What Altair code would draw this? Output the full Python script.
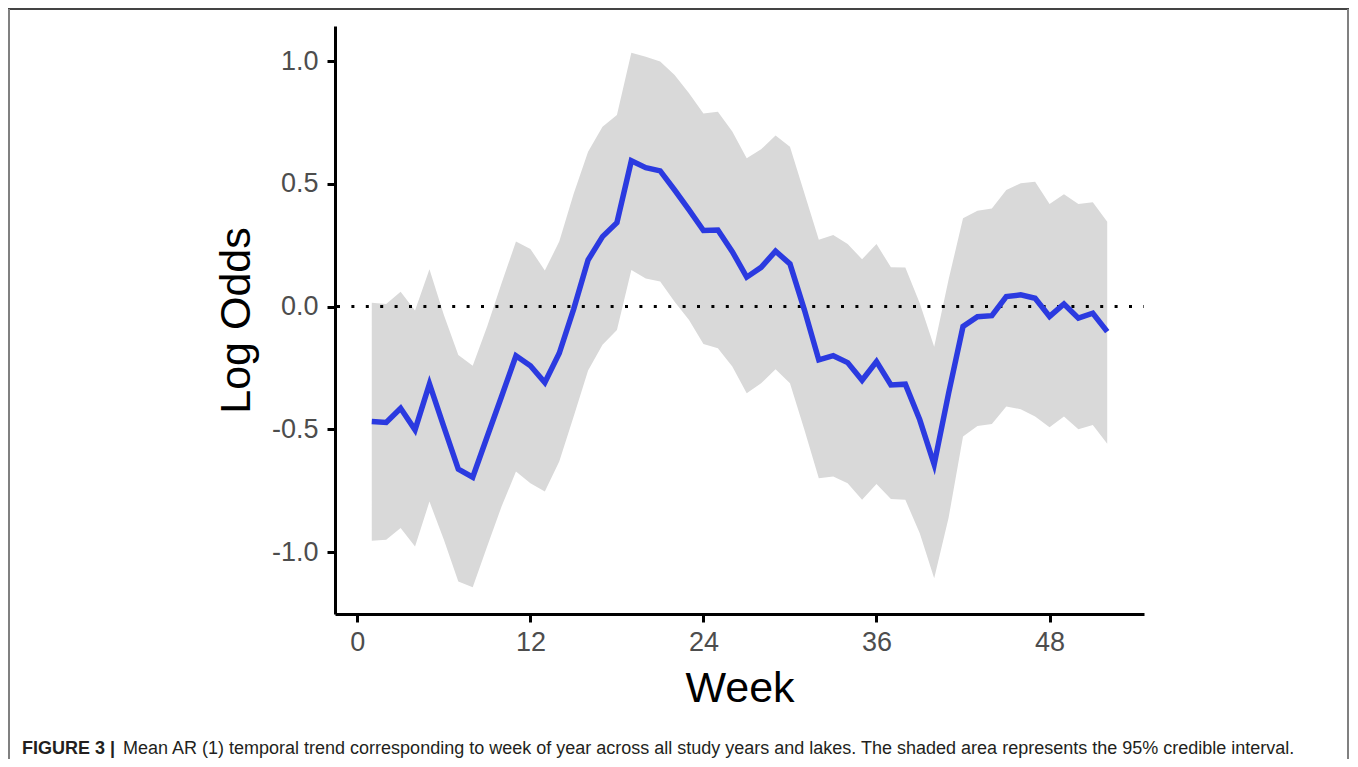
import altair as alt
import pandas as pd

weeks = list(range(1, 53))
mean_lo = [-0.468, -0.472, -0.414, -0.502, -0.315, -0.49, -0.662, -0.695, -0.53, -0.366,
           -0.20, -0.241, -0.309, -0.19, -0.01, 0.19, 0.285, 0.342, 0.594, 0.566,
           0.553, 0.475, 0.394, 0.31, 0.312, 0.224, 0.12, 0.16, 0.226, 0.174,
           -0.013, -0.217, -0.20, -0.228, -0.30, -0.224, -0.319, -0.316, -0.461, -0.643,
           -0.353, -0.081, -0.041, -0.037, 0.041, 0.048, 0.034, -0.04, 0.011, -0.047,
           -0.027, -0.102]
upper = [0.016, 0.011, 0.061, -0.016, 0.152, -0.034, -0.197, -0.241, -0.081, 0.095,
         0.265, 0.235, 0.147, 0.265, 0.46, 0.631, 0.733, 0.78, 1.034, 1.018,
         0.998, 0.943, 0.869, 0.787, 0.794, 0.713, 0.604, 0.641, 0.697, 0.651,
         0.462, 0.272, 0.292, 0.255, 0.193, 0.255, 0.16, 0.159, 0.014, -0.163,
         0.11, 0.36, 0.391, 0.40, 0.475, 0.502, 0.509, 0.418, 0.458, 0.418,
         0.425, 0.346]
lower = [-0.954, -0.95, -0.902, -0.977, -0.794, -0.95, -1.12, -1.143, -0.977, -0.814,
         -0.672, -0.719, -0.753, -0.631, -0.448, -0.26, -0.155, -0.095, 0.149, 0.115,
         0.102, 0.02, -0.054, -0.152, -0.17, -0.244, -0.353, -0.312, -0.255, -0.312,
         -0.502, -0.699, -0.692, -0.719, -0.787, -0.722, -0.784, -0.787, -0.923, -1.106,
         -0.86, -0.529, -0.486, -0.478, -0.407, -0.418, -0.448, -0.491, -0.448, -0.499,
         -0.482, -0.559]
x_ticks = [0, 12, 24, 36, 48]
y_ticks = [-1.0, -0.5, 0.0, 0.5, 1.0]
caption_bold = "FIGURE 3 |"
caption_rest = ("Mean AR (1) temporal trend corresponding to week of year across all study "
                "years and lakes. The shaded area represents the 95% credible interval.")

df = pd.DataFrame({"week": weeks, "mean": mean_lo, "lower": lower, "upper": upper})

FONT = "Liberation Sans"
W, H = 809, 588

xscale = alt.Scale(domain=[-1.55, 54.55], nice=False, zero=False)
yscale = alt.Scale(domain=[-1.252, 1.143], nice=False, zero=False)

x_axis = alt.Axis(values=x_ticks, title="Week", grid=False, domainColor="black",
                  domainWidth=3, tickColor="black", tickWidth=3, tickSize=8,
                  labelFontSize=27, labelColor="#4d4d4d", labelPadding=7, labelFont=FONT,
                  titleFont=FONT, titleFontSize=43, titleFontWeight="normal",
                  titleColor="black", titleX=W / 2, titleY=87, titleBaseline="alphabetic",
                  titleAlign="center")
y_axis = alt.Axis(values=y_ticks, title="Log Odds", grid=False, domainColor="black",
                  domainWidth=3, tickColor="black", tickWidth=3, tickSize=8,
                  labelFontSize=27, labelColor="#4d4d4d", labelPadding=9, labelFont=FONT,
                  labelExpr="datum.value < 0 ? '-' + format(-datum.value, '.1f') : format(datum.value, '.1f')",
                  titleFont=FONT, titleFontSize=43, titleFontWeight="normal",
                  titleColor="black", titleX=-86, titleY=H / 2, titleAngle=-90,
                  titleBaseline="alphabetic", titleAlign="center")

base = alt.Chart(df)

band = base.mark_area(color="#d9d9d9", opacity=1).encode(
    x=alt.X("week:Q", scale=xscale, axis=x_axis),
    y=alt.Y("lower:Q", scale=yscale, axis=y_axis),
    y2="upper:Q",
)

zero_rule = alt.Chart(pd.DataFrame({"z": [0.0]})).mark_rule(
    color="black", strokeWidth=3, strokeDash=[3, 11.4], strokeDashOffset=-12
).encode(y=alt.Y("z:Q", scale=yscale))

line = base.mark_line(color="#2b3ae0", strokeWidth=5.5, strokeJoin="miter").encode(
    x=alt.X("week:Q", scale=xscale),
    y=alt.Y("mean:Q", scale=yscale),
)

cap1 = alt.Chart(pd.DataFrame({"t": [caption_bold]})).mark_text(
    font=FONT, fontSize=18, fontWeight="bold", align="left", baseline="alphabetic",
    color="#231f20"
).encode(x=alt.value(-313), y=alt.value(728), text="t:N")

cap2 = alt.Chart(pd.DataFrame({"t": [caption_rest]})).mark_text(
    font=FONT, fontSize=18, align="left", baseline="alphabetic", color="#231f20"
).encode(x=alt.value(-212), y=alt.value(728), text="t:N")

border_top = alt.Chart(pd.DataFrame({"b": [0]})).mark_rule(color="#444444", strokeWidth=2).encode(
    x=alt.value(-327), x2=alt.value(1014), y=alt.value(-17))
border_left = alt.Chart(pd.DataFrame({"b": [0]})).mark_rule(color="#808080", strokeWidth=2).encode(
    x=alt.value(-326), y=alt.value(-17), y2=alt.value(745))
border_right = alt.Chart(pd.DataFrame({"b": [0]})).mark_rule(color="#808080", strokeWidth=2).encode(
    x=alt.value(1013), y=alt.value(-17), y2=alt.value(745))

chart = alt.layer(band, zero_rule, line, cap1, cap2, border_top, border_left, border_right).properties(
    width=W, height=H,
    padding={"left": 327, "top": 18, "right": 206, "bottom": 145},
    autosize=alt.AutoSizeParams(type="none"),
).configure(background="white").configure_view(stroke=None, strokeWidth=0)

chart.save("out.html", embed_options={"renderer": "svg", "actions": False})
